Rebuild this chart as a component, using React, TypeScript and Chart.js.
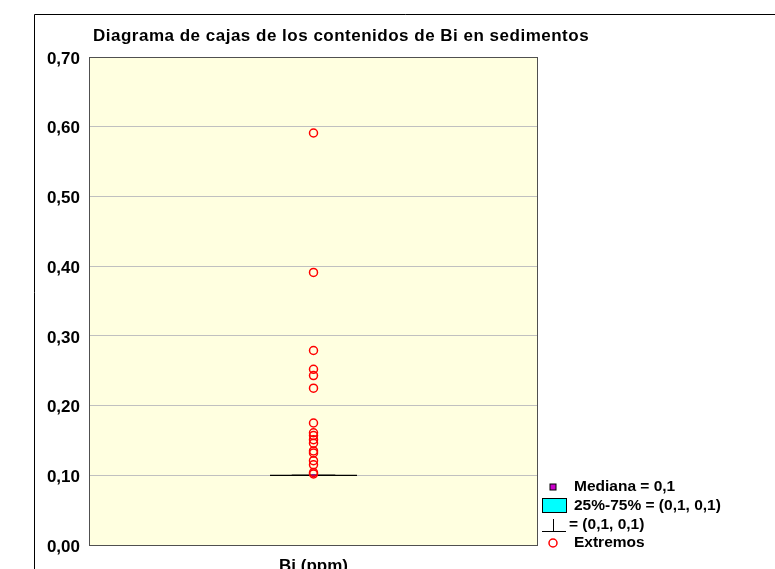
import React, { useEffect, useRef } from "react";
import { Chart, registerables } from "chart.js";

Chart.register(...registerables);

const chartTitle = "Diagrama de cajas de los contenidos de Bi en sedimentos";
const categories = ["Bi (ppm)"];
const medianValues = [0.1];
const q1Values = [0.1];
const q3Values = [0.1];
const whiskerLowValues = [0.1];
const whiskerHighValues = [0.1];
const outlierValues = [
  0.591, 0.391, 0.279, 0.252, 0.243, 0.225, 0.175, 0.161, 0.157, 0.151, 0.146,
  0.135, 0.132, 0.121, 0.115, 0.104, 0.102,
];
const yTickValues = [0, 0.1, 0.2, 0.3, 0.4, 0.5, 0.6, 0.7];
const legendLabels = ["Mediana = 0,1", "25%-75% = (0,1, 0,1)", "= (0,1, 0,1)", "Extremos"];

const FONT = "'Liberation Sans', Arial, sans-serif";

const fmt = (v: number) => v.toFixed(2).replace(".", ",");

const boxPlugin = {
  id: "boxPlugin",
  beforeDraw(chart: any) {
    const { ctx, chartArea } = chart;
    ctx.save();
    ctx.fillStyle = "#FFFFE0";
    ctx.fillRect(chartArea.left, chartArea.top, chartArea.right - chartArea.left, chartArea.bottom - chartArea.top);
    ctx.restore();
  },
  beforeDatasetsDraw(chart: any) {
    const { ctx, chartArea, scales } = chart;
    const x = scales.x;
    const y = scales.y;
    ctx.save();
    // plot border
    ctx.strokeStyle = "#505050";
    ctx.lineWidth = 1;
    ctx.strokeRect(chartArea.left + 0.5, chartArea.top + 0.5, chartArea.right - chartArea.left - 1, chartArea.bottom - chartArea.top);
    const halfW = 43.5;
    categories.forEach((_, i) => {
      const xc = x.getPixelForValue(i);
      const yq1 = y.getPixelForValue(q1Values[i]);
      const yq3 = y.getPixelForValue(q3Values[i]);
      const ylo = y.getPixelForValue(whiskerLowValues[i]);
      const yhi = y.getPixelForValue(whiskerHighValues[i]);
      const ymed = y.getPixelForValue(medianValues[i]);
      // whiskers
      ctx.strokeStyle = "#000";
      ctx.lineWidth = 1;
      ctx.beginPath();
      ctx.moveTo(xc, yq1);
      ctx.lineTo(xc, ylo);
      ctx.moveTo(xc, yq3);
      ctx.lineTo(xc, yhi);
      ctx.moveTo(xc - halfW / 2, ylo);
      ctx.lineTo(xc + halfW / 2, ylo);
      ctx.moveTo(xc - halfW / 2, yhi);
      ctx.lineTo(xc + halfW / 2, yhi);
      ctx.stroke();
      // box
      ctx.fillStyle = "#00FFFF";
      ctx.fillRect(xc - halfW, yq3, halfW * 2, yq1 - yq3);
      ctx.strokeStyle = "#000";
      ctx.lineWidth = 1.2;
      ctx.strokeRect(xc - halfW, yq3, halfW * 2, yq1 - yq3);
      // median
      ctx.fillStyle = "#990099";
      ctx.fillRect(xc - 2, ymed - 1, 4, 3);
    });
    ctx.restore();
  },
  afterDraw(chart: any) {
    const { ctx, chartArea, scales } = chart;
    ctx.save();
    // outer frame
    ctx.strokeStyle = "#000";
    ctx.lineWidth = 1;
    ctx.beginPath();
    ctx.moveTo(34.5, 600);
    ctx.lineTo(34.5, 14.5);
    ctx.lineTo(800, 14.5);
    ctx.stroke();
    // title
    ctx.fillStyle = "#000";
    ctx.font = `bold 17px ${FONT}`;
    (ctx as any).letterSpacing = "0.5px";
    ctx.textBaseline = "alphabetic";
    ctx.textAlign = "left";
    ctx.fillText(chartTitle, 93, 41);
    (ctx as any).letterSpacing = "0px";
    // y tick labels
    ctx.font = `bold 17px ${FONT}`;
    ctx.textAlign = "right";
    ctx.textBaseline = "middle";
    yTickValues.forEach((v) => {
      ctx.fillText(fmt(v), chartArea.left - 9, scales.y.getPixelForValue(v) + 2);
    });
    // x label
    ctx.textAlign = "center";
    ctx.textBaseline = "alphabetic";
    categories.forEach((c, i) => {
      ctx.fillText(c, scales.x.getPixelForValue(i), 571);
    });
    // legend
    ctx.textAlign = "left";
    ctx.textBaseline = "middle";
    const rows = [487, 506, 525, 543];
    const sx = 553;
    // median symbol
    ctx.fillStyle = "#CC00CC";
    ctx.fillRect(sx - 3, rows[0] - 3, 6, 6);
    ctx.strokeStyle = "#000";
    ctx.lineWidth = 1;
    ctx.strokeRect(sx - 3, rows[0] - 3, 6, 6);
    // box symbol
    ctx.fillStyle = "#00FFFF";
    ctx.fillRect(542, rows[1] - 7, 24, 14);
    ctx.strokeRect(542.5, rows[1] - 7.5, 24, 14);
    // whisker symbol
    ctx.beginPath();
    ctx.moveTo(sx + 0.5, rows[2] - 6);
    ctx.lineTo(sx + 0.5, rows[2] + 6.5);
    ctx.moveTo(542, rows[2] + 6.5);
    ctx.lineTo(566, rows[2] + 6.5);
    ctx.stroke();
    // outlier symbol
    ctx.strokeStyle = "#FF0000";
    ctx.lineWidth = 1.5;
    ctx.beginPath();
    ctx.arc(sx, rows[3], 4, 0, Math.PI * 2);
    ctx.stroke();
    ctx.fillStyle = "#000";
    ctx.font = `bold 15.5px ${FONT}`;
    ctx.fillText(legendLabels[0], 574, rows[0]);
    ctx.fillText(legendLabels[1], 574, rows[1]);
    ctx.fillText(legendLabels[2], 569, rows[2]);
    ctx.fillText(legendLabels[3], 574, rows[3]);
    ctx.restore();
  },
};

export default function App() {
  const ref = useRef<HTMLCanvasElement>(null);
  useEffect(() => {
    const canvas = ref.current!;
    const chart = new Chart(canvas, {
      type: "scatter",
      data: {
        labels: categories,
        datasets: [
          {
            label: legendLabels[3],
            data: outlierValues.map((v) => ({ x: categories[0], y: v })) as any,
            pointStyle: "circle",
            pointRadius: 4,
            pointHoverRadius: 4,
            pointBorderColor: "#FF0000",
            pointBackgroundColor: "rgba(0,0,0,0)",
            pointBorderWidth: 1.5,
          },
        ],
      },
      options: {
        responsive: false,
        animation: false,
        devicePixelRatio: 1,
        layout: { padding: { top: 57, right: 237, bottom: 24, left: 0 } },
        plugins: {
          legend: { display: false },
          tooltip: { enabled: false },
          title: { display: false },
        },
        scales: {
          x: { type: "category", labels: categories, offset: true, display: false } as any,
          y: {
            min: 0,
            max: 0.7,
            afterBuildTicks: (s: any) => {
              s.ticks = yTickValues.map((v) => ({ value: v }));
            },
            afterFit: (s: any) => {
              s.width = 89;
            },
            ticks: { display: false },
            grid: { color: "#C0C0C0", drawTicks: false, lineWidth: 1 },
            border: { display: false },
          },
        },
      },
      plugins: [boxPlugin],
    });
    return () => chart.destroy();
  }, []);
  return (
    <div style={{ position: "absolute", left: 0, top: 0, width: 775, height: 569, background: "#fff" }}>
      <canvas ref={ref} width={775} height={569} style={{ display: "block", width: 775, height: 569 }} />
    </div>
  );
}
